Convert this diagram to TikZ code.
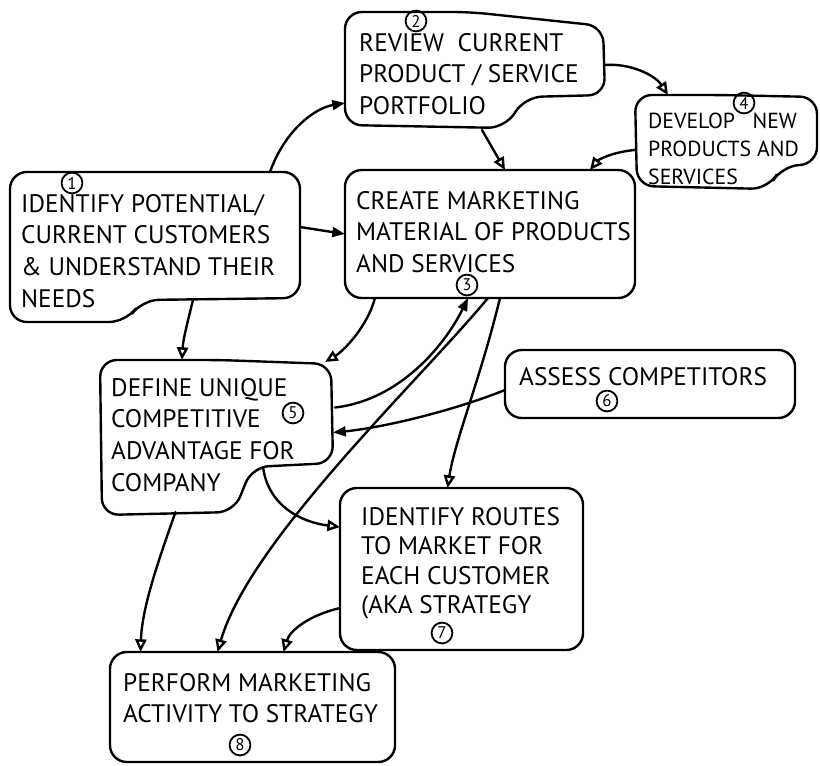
\documentclass[tikz,border=0pt]{standalone}
\usepackage{fontspec}
\setmainfont{PT Sans}
\usetikzlibrary{arrows.meta,calc}
\begin{document}
\begin{tikzpicture}[x=0.025cm,y=-0.025cm,
  line width=1.7pt, line join=round, line cap=round,
  boxd/.style={draw, rounded corners=12pt, inner sep=0pt, outer sep=0pt},
  boxn/.style={inner sep=0pt, outer sep=0pt},
  outline/.style={draw, rounded corners=12pt},
  txt/.style={anchor=north west, align=left, inner sep=0pt, font=\fontsize{18}{22.5}\selectfont},
  txtt/.style={txt, font=\fontsize{18}{21}\selectfont},
  txts/.style={txt, font=\fontsize{15.5}{20}\selectfont},
  num/.style={draw, circle, inner sep=0pt, minimum size=0.52cm, line width=1.3pt, font=\fontsize{12}{12}\selectfont},
  arr/.style={-{Triangle[open,length=9pt,width=8pt]}},
  arrf/.style={-{Triangle[length=9pt,width=7pt]}}
]
\useasboundingbox (0,0) rectangle (820,765);

% box nodes
\node[boxn, minimum width=7.25cm, minimum height=3.75cm] (b1) at (155,247) {};
\node[boxn, minimum width=6.5cm, minimum height=2.95cm] (b2) at (475,71) {};
\node[boxd, minimum width=7.25cm, minimum height=3.2cm] (b3) at (490,234) {};
\node[boxn, minimum width=4.55cm, minimum height=2.325cm] (b4) at (726,141.5) {};
\node[boxn, minimum width=5.825cm, minimum height=3.875cm] (b5) at (216.5,437.5) {};
\node[boxd, minimum width=7.25cm, minimum height=1.7cm] (b6) at (650,384) {};
\node[boxd, minimum width=6.075cm, minimum height=4.05cm] (b7) at (461.5,569) {};
\node[boxd, minimum width=7.125cm, minimum height=2.75cm] (b8) at (252.5,707) {};

% notched outlines
\draw[outline] (150,172) -- (300,172) -- (300,298) -- (142,300) -- (126,322) -- (10,322) -- (10,172) -- cycle;
\draw[outline] (470,12) -- (603,26) -- (605,95) -- (525,97) -- (505,128) -- (345,125) -- (345,12) -- cycle;
\draw[outline] (720,95) -- (817,97) -- (817,164) -- (782,166) -- (768,189) -- (637,186) -- (635,95) -- cycle;
\draw[outline] (220,360) -- (331,364) -- (333,463) -- (252,467) -- (234,512) -- (102,515) -- (100,360) -- cycle;

% texts
\node[txt] (t1) at (20,193) {IDENTIFY POTENTIAL/\\CURRENT CUSTOMERS\\\& UNDERSTAND THEIR\\NEEDS};
\node[txt] (t2) at (358,32) {REVIEW\ \ CURRENT\\PRODUCT / SERVICE\\PORTFOLIO};
\node[txt] (t3) at (355,190) {CREATE MARKETING\\MATERIAL OF PRODUCTS\\AND SERVICES};
\node[txts] (t4) at (647,112) {DEVELOP\ \ \ NEW\\PRODUCTS AND\\SERVICES};
\node[txt] (t5) at (110,377) {DEFINE UNIQUE\\COMPETITIVE\\ADVANTAGE FOR\\COMPANY};
\node[txt] (t6) at (518,366) {ASSESS COMPETITORS};
\node[txtt] (t7) at (360,506) {IDENTIFY ROUTES\\TO MARKET FOR\\EACH CUSTOMER\\(AKA STRATEGY};
\node[txt] (t8) at (122,672) {PERFORM MARKETING\\ACTIVITY TO STRATEGY};

% circled numbers
\node[num] (c1) at (72,183) {1};
\node[num] (c2) at (416,21) {2};
\node[num] (c3) at (467,285) {3};
\node[num] (c4) at (744,103) {4};
\node[num] (c5) at (293,413) {5};
\node[num] (c6) at (607,401) {6};
\node[num] (c7) at (442,633) {7};
\node[num] (c8) at (240,745) {8};

% connectors
\draw[arrf] ($(b1.north west)+(260,0)$) .. controls (285,130) and (315,108) .. ($(b2.west)+(0,32)$);
\draw[arrf] ($(b1.east)+(0,-20)$) -- (b3.west);
\draw[arr] ($(b1.south)+(38,-22)$) .. controls (188,320) and (183,340) .. ($(b5.north)+(-34.5,0)$);
\draw[arr] ($(b2.east)+(0,-6)$) .. controls (630,63) and (655,75) .. ($(b4.north west)+(33,0)$);
\draw[arr] ($(b2.south)+(7,0)$) -- ($(b3.north)+(15,0)$);
\draw[arr] ($(b4.west)+(0,8.5)$) .. controls (612,152) and (598,160) .. ($(b3.north)+(100,0)$);
\draw[arr] ($(b3.south west)+(30,0)$) .. controls (368,325) and (345,350) .. ($(b5.north east)+(-8,2)$);
\draw[arrf] ($(b5.east)+(2,-30)$) .. controls (400,400) and (445,345) .. ($(b3.south)+(-22,0)$);
\draw[arrf] ($(b6.west)+(0,6)$) .. controls (450,412) and (380,428) .. ($(b5.east)+(0,-5)$);
\draw[arr] ($(b3.south)+(-2,0)$) .. controls (420,380) and (250,540) .. ($(b8.north)+(-35,0)$);
\draw[arr] ($(b3.south)+(10,0)$) .. controls (480,380) and (455,440) .. ($(b7.north)+(-14,0)$);
\draw[arr] ($(b5.south east)+(-70,-48)$) .. controls (268,505) and (300,522) .. ($(b7.west)+(0,-42)$);
\draw[arr] ($(b5.south)+(-41,-3)$) .. controls (155,570) and (142,610) .. ($(b8.north)+(-112,0)$);
\draw[arr] ($(b7.west)+(0,39)$) .. controls (310,615) and (290,630) .. ($(b8.north)+(31,0)$);
\end{tikzpicture}
\end{document}
